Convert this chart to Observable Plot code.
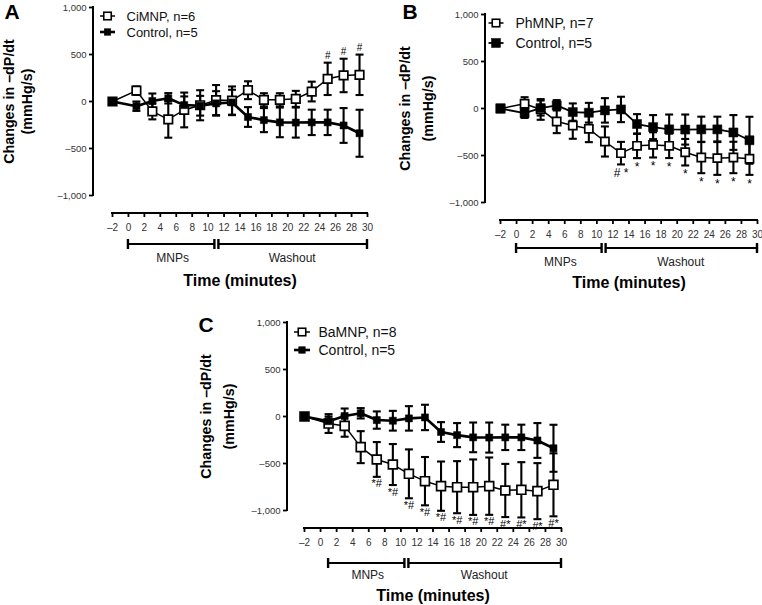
<!DOCTYPE html>
<html><head><meta charset="utf-8">
<script src="https://cdn.jsdelivr.net/npm/d3@7"></script>
<script src="https://cdn.jsdelivr.net/npm/@observablehq/plot@0.6"></script>
<style>
html,body{margin:0;padding:0;background:#fff;}
#wrap{position:relative;width:762px;height:605px;overflow:hidden;font-family:"Liberation Sans",Arial,sans-serif;}
</style></head><body><div id="wrap"></div>
<script>
// ---------- data ----------
const times = [-2, 1, 3, 5, 7, 9, 11, 13, 15, 17, 19, 21, 23, 25, 27, 29];
const controlMean = [0, -50, 5, 34, -38, -45, -20, -10, -165, -198, -222, -224, -222, -222, -255, -338];
const controlSEM  = [0, 50, 80, 55, 92, 105, 130, 135, 105, 128, 158, 160, 135, 135, 185, 250];
const ciMNPMean = [0, 115, -105, -190, -90, -40, 15, 10, 120, 18, 18, 28, 106, 241, 277, 284];
const ciMNPSEM  = [0, 45, 85, 195, 185, 160, 160, 150, 95, 70, 70, 85, 105, 172, 178, 215];
const ciMNPSig  = ["", "", "", "", "", "", "", "", "", "", "", "", "", "#", "#", "#"];
const phMNPMean = [0, 50, -10, -138, -181, -216, -351, -475, -397, -387, -397, -465, -521, -528, -521, -535];
const phMNPSEM  = [0, 70, 110, 124, 141, 142, 160, 120, 131, 134, 130, 141, 167, 178, 167, 171];
const phMNPSig  = ["", "", "", "", "", "", "", "# *", "*", "*", "*", "*", "*", "*", "*", "*"];
const baMNPMean = [0, -75, -100, -326, -457, -511, -610, -688, -741, -752, -752, -741, -787, -780, -794, -727];
const baMNPSEM  = [0, 100, 115, 170, 185, 218, 260, 257, 262, 277, 295, 305, 283, 294, 298, 335];
const baMNPSig  = ["", "", "", "", "*#", "*#", "*#", "*#", "*#", "*#", "*#", "*#", "#*", "#*", "#*", "#*"];
const xTicks = [-2, 0, 2, 4, 6, 8, 10, 12, 14, 16, 18, 20, 22, 24, 26, 28, 30];
const yTicks = [-1000, -500, 0, 500, 1000];
const phaseLabels = ["MNPs", "Washout"];
const yLabelLines = ["Changes in \u2013dP/dt", "(mmHg/s)"];
const xLabel = "Time (minutes)";
const controlLabel = "Control, n=5";

// ---------- helpers ----------
const FONT = "'Liberation Sans', Arial, Helvetica, sans-serif";
const fmt = d => d3.format(",")(d).replace(/[\u2212-]/, "\u2013");
const capSymbol = {draw(ctx, size) { const w = Math.sqrt(size); ctx.moveTo(-w / 2, 0); ctx.lineTo(w / 2, 0); }};

function buildPanel(cfg) {
  const g = cfg.geom;
  const x0 = xTicks[0], x1 = xTicks[xTicks.length - 1];
  const y0 = yTicks[0], y1 = yTicks[yTicks.length - 1];
  const kx = (g.x30 - g.xm2) / (x1 - x0);
  const ky = (g.yM1000 - g.y1000) / (y1 - y0);
  const xLo = x0 - (g.xm2 - g.axisX) / kx;
  const yLo = y0 - (g.xAxisY - g.yM1000) / ky;
  const treat = times.map((t, i) => ({t, v: cfg.mean[i], e: cfg.sem[i], s: cfg.sig[i]}));
  const ctrl = times.map((t, i) => ({t, v: controlMean[i], e: controlSEM[i]}));
  const phases = phaseLabels.map((label, i) => ({label, start: cfg.phaseBounds[i], end: cfg.phaseBounds[i + 1]}));

  const errMarks = (data, sw) => {
    const b = data.filter(d => d.e > 0);
    return [
      Plot.ruleX(b, {x: "t", y1: d => d.v - d.e, y2: d => d.v + d.e, stroke: "black", strokeWidth: sw}),
      Plot.dot(b, {x: "t", y: d => d.v + d.e, symbol: capSymbol, r: cfg.capR, stroke: "black", strokeWidth: sw, fill: "none"}),
      Plot.dot(b, {x: "t", y: d => d.v - d.e, symbol: capSymbol, r: cfg.capR, stroke: "black", strokeWidth: sw, fill: "none"})
    ];
  };

  const decor = (index, scales, values, dims) => {
    const sel = d3.create("svg:g").attr("fill", "none").attr("stroke", "black");
    const fl = dims.marginLeft, fb = dims.height - dims.marginBottom;
    sel.append("line").attr("x1", fl).attr("x2", fl)
      .attr("y1", scales.y(y0)).attr("y2", scales.y(y1)).attr("stroke-width", 2).attr("stroke-linecap", "square");
    sel.append("line").attr("x1", scales.x(x0)).attr("x2", scales.x(x1))
      .attr("y1", fb).attr("y2", fb).attr("stroke-width", 2).attr("stroke-linecap", "square");
    const by = fb + cfg.bracketDy;
    phases.forEach((p, i) => {
      const a = scales.x(p.start) + (i > 0 ? 2 : 0);
      const b = scales.x(p.end) - (i < phases.length - 1 ? 2 : 0);
      sel.append("line").attr("x1", a).attr("x2", b).attr("y1", by).attr("y2", by).attr("stroke-width", 2.2);
      for (const xx of [a, b]) {
        sel.append("line").attr("x1", xx).attr("x2", xx).attr("y1", by - 5).attr("y2", by + 5).attr("stroke-width", 2.4);
      }
    });
    return sel.node();
  };

  const L = cfg.legend;
  const legendRows = [
    {fill: "white", side: L.tSide, sw: 1.6, lw: cfg.tLW},
    {fill: "black", side: L.cSide, sw: 0.5, lw: cfg.cLW}
  ];
  const legendSw = (index, scales, values, dims) => {
    const sel = d3.create("svg:g");
    legendRows.forEach((row, i) => {
      const cx = dims.marginLeft + L.dx, cy = dims.marginTop + L.dy[i];
      sel.append("line").attr("x1", cx - L.half).attr("x2", cx + L.half).attr("y1", cy).attr("y2", cy)
        .attr("stroke", "black").attr("stroke-width", row.lw);
      sel.append("rect").attr("x", cx - row.side / 2).attr("y", cy - row.side / 2)
        .attr("width", row.side).attr("height", row.side)
        .attr("fill", row.fill).attr("stroke", "black").attr("stroke-width", row.sw);
    });
    return sel.node();
  };
  const legendLabels = [cfg.treatLabel, controlLabel];

  const annY = cfg.annAbove ? (d => d.v + d.e) : (d => d.v - d.e);
  const yMidDy = (g.yM1000 - g.xAxisY) / 2;

  const svg = Plot.plot({
    width: g.width, height: g.height,
    marginLeft: g.axisX - g.left,
    marginRight: g.left + g.width - g.x30,
    marginTop: g.y1000 - g.top,
    marginBottom: g.top + g.height - g.xAxisY,
    x: {domain: [xLo, x1]},
    y: {domain: [yLo, y1]},
    style: {fontFamily: FONT, background: "transparent", overflow: "visible"},
    marks: [
      Plot.axisY({ticks: yTicks, tickFormat: fmt, tickSize: 4, tickPadding: 3, fontSize: 9.5, fill: "#333", stroke: "black", strokeWidth: 1.8, label: null}),
      Plot.axisX({ticks: xTicks, tickFormat: fmt, tickSize: 4, tickPadding: 6, fontSize: 10, fill: "#333", stroke: "black", strokeWidth: 1.8, label: null}),
      decor,
      ...errMarks(treat, 2.1),
      ...errMarks(ctrl, 2.1),
      Plot.line(treat, {x: "t", y: "v", stroke: "black", strokeWidth: cfg.tLW}),
      Plot.line(ctrl, {x: "t", y: "v", stroke: "black", strokeWidth: cfg.cLW}),
      Plot.dot(treat, {x: "t", y: "v", symbol: "square", r: cfg.tR, fill: "white", stroke: "black", strokeWidth: 1.7}),
      Plot.dot(ctrl, {x: "t", y: "v", symbol: "square", r: cfg.cR, fill: "black", stroke: "black", strokeWidth: 0.5}),
      Plot.text(treat.filter(d => d.s), {x: "t", y: annY, text: "s", dy: cfg.annDy, fontSize: cfg.annFont, fill: "black"}),
      legendSw,
      Plot.text([legendLabels[0]], {frameAnchor: "top-left", dx: L.tx, dy: L.dy[0], textAnchor: "start", lineAnchor: "middle", fontSize: L.font, fill: "#111"}),
      Plot.text([legendLabels[1]], {frameAnchor: "top-left", dx: L.tx, dy: L.dy[1], textAnchor: "start", lineAnchor: "middle", fontSize: L.font, fill: "#111"}),
      Plot.text([cfg.letter], {frameAnchor: "top-left", dx: cfg.letterDx, dy: cfg.letterDy, textAnchor: "start", lineAnchor: "top", fontSize: 21, fontWeight: "bold"}),
      Plot.text([yLabelLines[0]], {frameAnchor: "left", rotate: -90, textAnchor: "middle", lineAnchor: "middle", dx: cfg.yLabDx[0], dy: yMidDy, fontSize: 14.3, fontWeight: "bold"}),
      Plot.text([yLabelLines[1]], {frameAnchor: "left", rotate: -90, textAnchor: "middle", lineAnchor: "middle", dx: cfg.yLabDx[1], dy: yMidDy, fontSize: 14.3, fontWeight: "bold"}),
      Plot.text(phases, {x: d => (d.start + d.end) / 2, frameAnchor: "bottom", lineAnchor: "middle", dy: cfg.phaseLabDy, text: "label", fontSize: 12, fill: "#222"}),
      Plot.text([xLabel], {x: () => (x0 + x1) / 2, frameAnchor: "bottom", lineAnchor: "middle", dy: cfg.titleDy, fontSize: 16, fontWeight: "bold"})
    ]
  });
  svg.style.position = "absolute";
  svg.style.left = g.left + "px";
  svg.style.top = g.top + "px";
  svg.style.maxWidth = "none";
  document.getElementById("wrap").appendChild(svg);
}

buildPanel({
  letter: "A", treatLabel: "CiMNP, n=6", mean: ciMNPMean, sem: ciMNPSEM, sig: ciMNPSig,
  geom: {left: 0, top: 0, width: 380, height: 290, axisX: 93, xm2: 112, x30: 367, y1000: 7, yM1000: 195, xAxisY: 213},
  tR: 4.8, cR: 4, tLW: 1.5, cLW: 2.6, capR: 4.5,
  annAbove: true, annDy: -7, annFont: 10,
  legend: {dx: 14.5, half: 7.5, dy: [9, 25], tx: 33, font: 13, tSide: 7.5, cSide: 6.5},
  letterDx: -89, letterDy: -3, yLabDx: [-84, -66],
  phaseBounds: [0, 11.1, 30], bracketDy: 31, phaseLabDy: 45, titleDy: 67
});
buildPanel({
  letter: "B", treatLabel: "PhMNP, n=7", mean: phMNPMean, sem: phMNPSEM, sig: phMNPSig,
  geom: {left: 380, top: 0, width: 382, height: 290, axisX: 485, xm2: 500, x30: 757, y1000: 14, yM1000: 202, xAxisY: 220},
  tR: 4.6, cR: 5.1, tLW: 1.5, cLW: 1.8, capR: 4.5,
  annAbove: false, annDy: 9, annFont: 12,
  legend: {dx: 11, half: 7.5, dy: [9, 29], tx: 30, font: 14, tSide: 7.5, cSide: 9},
  letterDx: -83, letterDy: -10, yLabDx: [-80, -57],
  phaseBounds: [0, 10.9, 30], bracketDy: 28, phaseLabDy: 42, titleDy: 62
});
buildPanel({
  letter: "C", treatLabel: "BaMNP, n=8", mean: baMNPMean, sem: baMNPSEM, sig: baMNPSig,
  geom: {left: 190, top: 300, width: 400, height: 305, axisX: 287, xm2: 304, x30: 561, y1000: 322, yM1000: 510, xAxisY: 528},
  tR: 5, cR: 4, tLW: 1.5, cLW: 2.6, capR: 4.5,
  annAbove: false, annDy: 7, annFont: 11,
  legend: {dx: 15, half: 8, dy: [10, 28], tx: 31, font: 14, tSide: 7.5, cSide: 6.5},
  letterDx: -89, letterDy: -5, yLabDx: [-81, -58],
  phaseBounds: [1, 10.75, 30], bracketDy: 35, phaseLabDy: 47, titleDy: 67
});
</script></body></html>
